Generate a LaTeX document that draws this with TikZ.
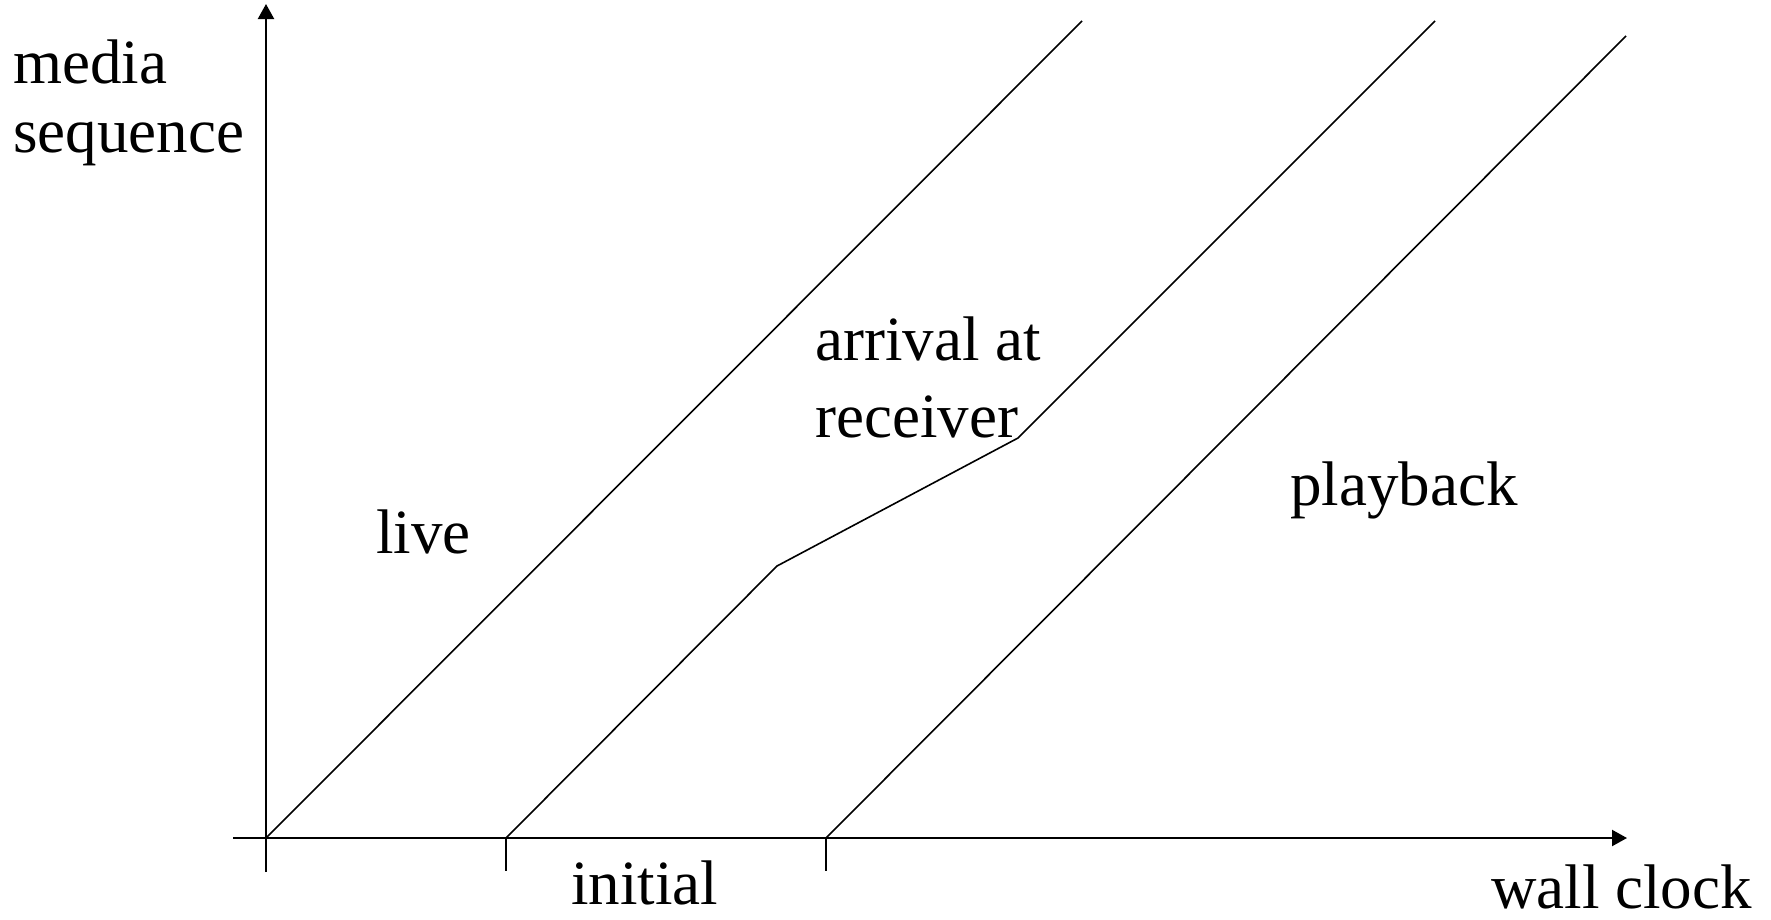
\documentclass[tikz,border=0pt]{standalone}
\usepackage{fontspec}
\setmainfont{Liberation Serif}
\usetikzlibrary{arrows.meta}
\begin{document}
\begin{tikzpicture}[x=1pt,y=-1pt,
  axis/.style={line width=2.2pt,-{Triangle[length=15pt,width=16pt]}},
  tickmark/.style={line width=2pt},
  curve/.style={line width=1.6pt,line join=miter},
  lbl/.style={anchor=base west,inner sep=0pt,font=\fontsize{63}{75}\selectfont}]
\useasboundingbox (0,0) rectangle (1771,919);
% axes
\coordinate (origin) at (266,838);
\coordinate (xstart) at (233,838);
\coordinate (xend) at (1627,838);
\coordinate (ybottom) at (266,872);
\coordinate (ytop) at (266,4);
\draw[axis] (xstart) -- (xend);
\draw[axis] (ybottom) -- (ytop);
% ticks on the time axis
\coordinate (t1) at (506,838);
\coordinate (t1b) at (506,871);
\coordinate (t2) at (826,838);
\coordinate (t2b) at (826,871);
\draw[tickmark] (t1) -- (t1b);
\draw[tickmark] (t2) -- (t2b);
% live
\coordinate (liveend) at (1082,21);
\draw[curve] (origin) -- (liveend);
% arrival at receiver
\coordinate (k1) at (777,566);
\coordinate (k2) at (1018,438);
\coordinate (arrend) at (1435,21);
\draw[curve] (t1) -- (k1) -- (k2) -- (arrend);
% playback
\coordinate (playend) at (1626,36);
\draw[curve] (t2) -- (playend);
% labels
\node[lbl] (media) at (13,83) {media};
\node[lbl] (seq) at (13,152) {sequence};
\node[lbl] (live) at (376,553) {live};
\node[lbl] (arr) at (815,360) {arrival at};
\node[lbl] (recv) at (815,437) {receiver};
\node[lbl] (play) at (1290,505) {playback};
\node[lbl] (init) at (571,904) {initial};
\node[lbl] (wall) at (1491,908) {wall clock};
\end{tikzpicture}
\end{document}
